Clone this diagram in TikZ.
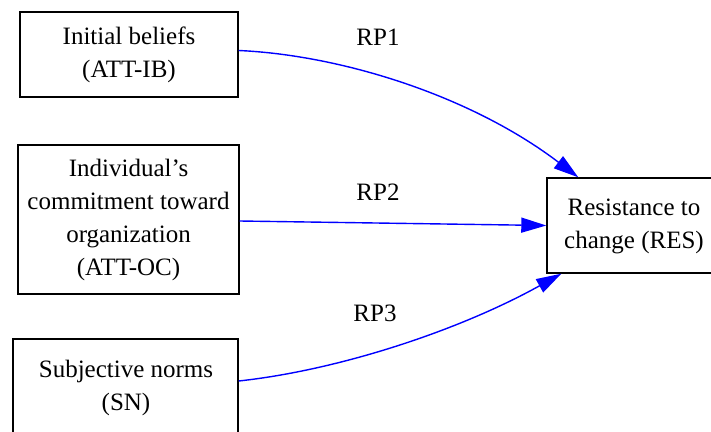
\documentclass[tikz,border=0pt]{standalone}
\usepackage{fontspec}
\setmainfont{Liberation Serif}
\usetikzlibrary{arrows.meta,calc}
\begin{document}
\begin{tikzpicture}[x=1pt,y=-1pt,
  box/.style={draw=black,line width=1.4pt,inner sep=0pt,align=center,
    font=\fontsize{25}{33}\selectfont},
  conn/.style={draw=blue,line width=1.4pt,-{Triangle[length=25pt,width=15pt]}},
  lbl/.style={font=\fontsize{25}{33}\selectfont,inner sep=0pt}]
\useasboundingbox (0,0) rectangle (711,431);
\clip (0,0) rectangle (711,431);
\node[box,minimum width=218pt,minimum height=85pt] (ib) at (129,54.5) {Initial beliefs\\(ATT-IB)};
\node[box,minimum width=221pt,minimum height=149pt] (oc) at (128.5,219.5) {Individual’s\\commitment toward\\organization\\(ATT-OC)};
\node[box,minimum width=225pt,minimum height=98pt] (sn) at (125.5,388) {};
\node[lbl,align=center] (sntext) at (126,388) {Subjective norms\\(SN)};
\node[box,minimum width=167pt,minimum height=95pt] (res) at (630.5,225.5) {};
\node[lbl,align=center] (restext) at (634,226.5) {Resistance to\\change (RES)};
\draw[conn] ($(ib.east)+(0,-4)$) .. controls (340,55) and (470,95) .. ($(res.north west)+(32,0)$);
\draw[conn] ($(oc.east)+(0,1.5)$) -- (res.west);
\draw[conn] ($(sn.east)+(0,-7)$) .. controls (340,370) and (460,330) .. ($(res.south west)+(15,0)$);
\node[lbl] (rp1) at (378,37) {RP1};
\node[lbl] (rp2) at (378,192) {RP2};
\node[lbl] (rp3) at (375,313) {RP3};
\end{tikzpicture}
\end{document}
